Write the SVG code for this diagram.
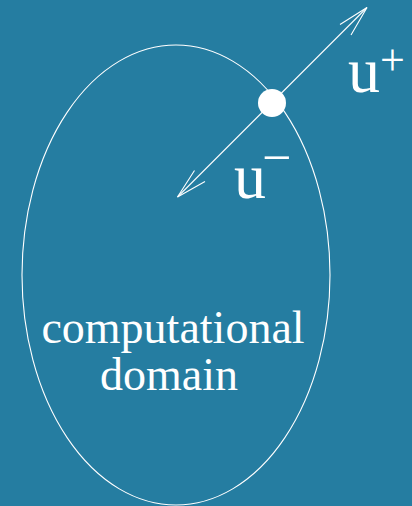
<svg xmlns="http://www.w3.org/2000/svg" width="412" height="506" viewBox="0 0 412 506">
<style>
.ln{fill:none;stroke:#ffffff;stroke-width:1.1}
.tx{fill:#ffffff;font-family:"Liberation Serif","Times New Roman",serif}
</style>
<rect x="0" y="0" width="412" height="506" fill="#257da1"/>
<g id="domain">
<ellipse class="ln" cx="176" cy="275" rx="154" ry="230"/>
<text class="tx" font-size="46" x="173" y="343" text-anchor="middle">computational</text>
<text class="tx" font-size="46" x="169" y="390" text-anchor="middle">domain</text>
</g>
<g id="connectors">
<line class="ln" x1="177.5" y1="197" x2="367" y2="7.5"/>
<polyline class="ln" points="340,24.5 367,7.5 351,35"/>
<polyline class="ln" points="194.5,170.5 177.5,197 205,181.5"/>
</g>
<g id="point">
<circle cx="272" cy="103" r="14" fill="#ffffff"/>
</g>
<g id="uplus">
<text class="tx" font-size="64" x="348" y="92">u<tspan x="380" y="75" font-size="44">+</tspan></text>
</g>
<g id="uminus">
<text class="tx" font-size="64" x="234" y="198">u<tspan x="262" y="175" font-size="52">−</tspan></text>
</g>
</svg>
